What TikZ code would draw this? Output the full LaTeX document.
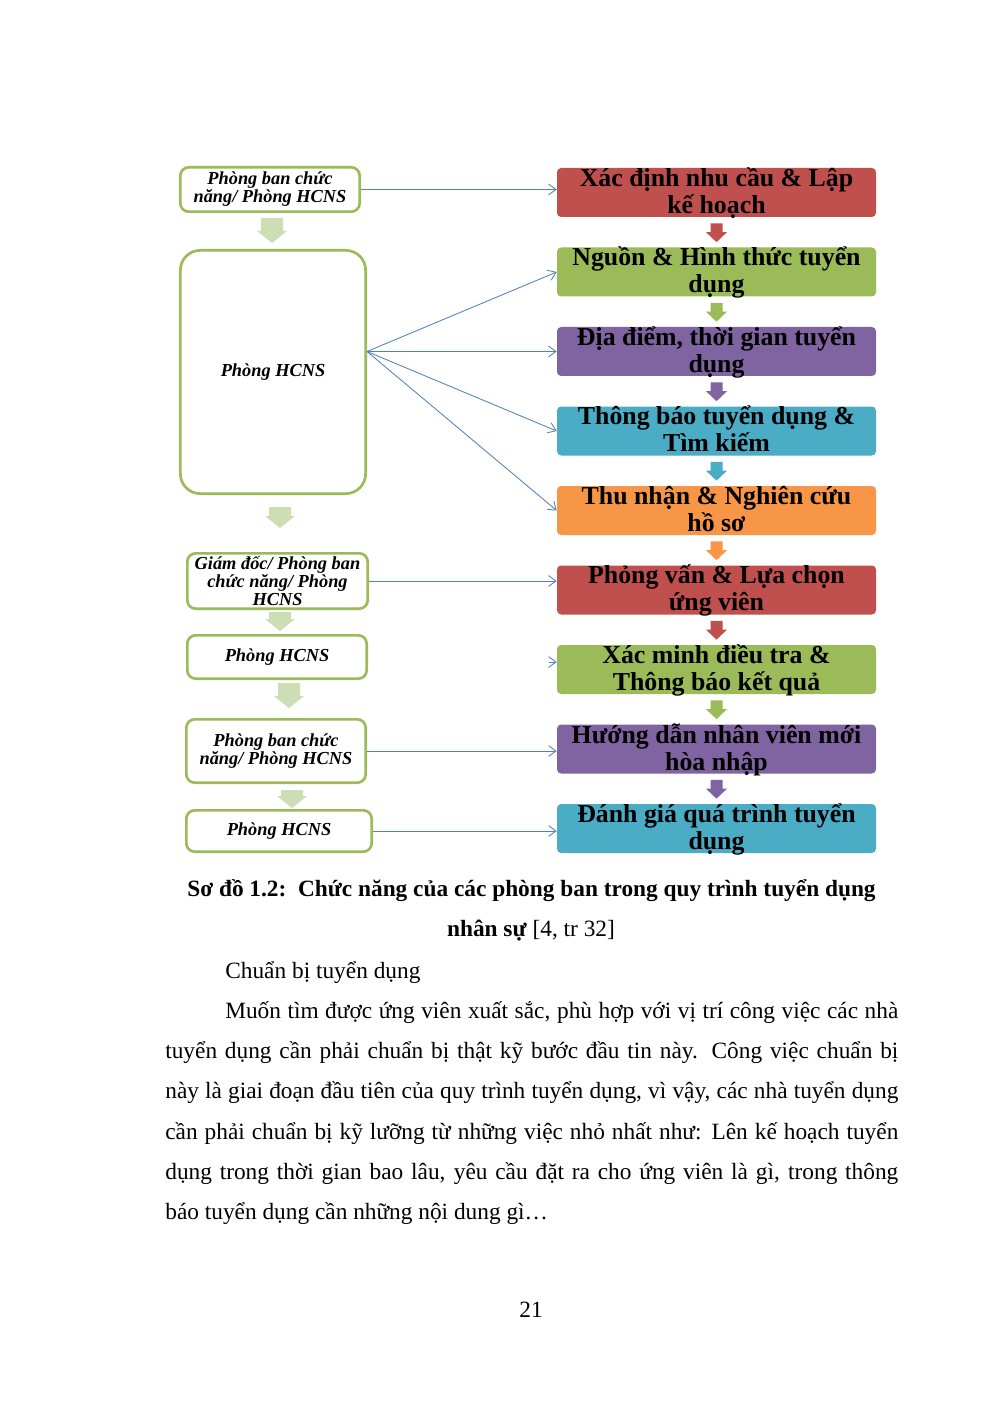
\documentclass[tikz,border=0pt]{standalone}
\usepackage{fontspec}
\setmainfont{Liberation Serif}
\usetikzlibrary{calc, arrows.meta}
\definecolor{myred}{HTML}{C0504D}
\definecolor{mygreen}{HTML}{9BBB59}
\definecolor{mypurple}{HTML}{8064A2}
\definecolor{myblue}{HTML}{4BACC6}
\definecolor{myorange}{HTML}{F79646}
\definecolor{mylink}{HTML}{4F81BD}
\definecolor{mypale}{HTML}{CDDDB4}
\newcommand{\stagetext}[1]{\smash{\raisebox{-4.8pt}{\begin{tabular}{@{}c@{}}#1\end{tabular}}}}
\tikzset{
	stagenode/.style={
			rectangle,
			rounded corners=2.5pt,
			minimum width=191.4pt,
			minimum height=29.4pt,
			inner sep=0pt,
			font=\fontsize{15.5}{16.2}\selectfont\bfseries
		},
	deptnode/.style={
			rectangle,
			rounded corners=5pt,
			draw=mygreen,
			line width=1.6pt,
			fill=white,
			inner sep=0pt,
			align=center,
			font=\fontsize{11}{10.8}\selectfont\bfseries\itshape
		},
	linkline/.style={
			draw=mylink,
			line width=0.5pt,
			-{Straight Barb[length=4.5pt,width=6.5pt]}
		},
	bodyline/.style={
			inner sep=0pt,
			anchor=base west,
			font=\fontsize{14}{16}\selectfont
		}
}

\begin{document}
\begin{tikzpicture}[x=0.6pt, y=-0.6pt]
\useasboundingbox[fill=white] (0,0) rectangle (992,1403);
    \node[stagenode, fill=myred] (r1) at (716.5,192.5) {\stagetext{Xác định nhu cầu \& Lập\\kế hoạch}};
    \node[stagenode, fill=mygreen] (r2) at (716.5,272) {\stagetext{Nguồn \& Hình thức tuyển\\dụng}};
    \node[stagenode, fill=mypurple] (r3) at (716.5,351.5) {\stagetext{Địa điểm, thời gian tuyển\\dụng}};
    \node[stagenode, fill=myblue] (r4) at (716.5,431) {\stagetext{Thông báo tuyển dụng \&\\Tìm kiếm}};
    \node[stagenode, fill=myorange] (r5) at (716.5,510.5) {\stagetext{Thu nhận \& Nghiên cứu\\hồ sơ}};
    \node[stagenode, fill=myred] (r6) at (716.5,590) {\stagetext{Phỏng vấn \& Lựa chọn\\ứng viên}};
    \node[stagenode, fill=mygreen] (r7) at (716.5,669.5) {\stagetext{Xác minh điều tra \&\\Thông báo kết quả}};
    \node[stagenode, fill=mypurple] (r8) at (716.5,749) {\stagetext{Hướng dẫn nhân viên mới\\hòa nhập}};
    \node[stagenode, fill=myblue] (r9) at (716.5,828.5) {\stagetext{Đánh giá quá trình tuyển\\dụng}};

    \foreach \a/\b/\c in {r1/r2/myred, r2/r3/mygreen, r3/r4/mypurple, r4/r5/myblue,
                          r5/r6/myorange, r6/r7/myred, r7/r8/mygreen, r8/r9/mypurple}
        \fill[\c] ($(\a.south)+(-6,6)$) -- ($(\a.south)+(6,6)$) -- ($(\b.north)+(6,-15)$)
            -- ($(\b.north)+(10.5,-15)$) -- ($(\b.north)+(0,-5)$) -- ($(\b.north)+(-10.5,-15)$)
            -- ($(\b.north)+(-6,-15)$) -- cycle;

    \node[deptnode, minimum width=107.6pt, minimum height=26.6pt] (d1) at (270,189.5) {Phòng ban chức\\năng/ Phòng HCNS};
    \node[deptnode, rounded corners=12pt, minimum width=111.2pt, minimum height=146pt] (d2) at (273,372) {Phòng HCNS};
    \node[deptnode, minimum width=108.2pt, minimum height=33.2pt] (d3) at (277.5,581) {Giám đốc/ Phòng ban\\chức năng/ Phòng\\HCNS};
    \node[deptnode, minimum width=107.6pt, minimum height=26pt] (d4) at (277,657) {Phòng HCNS};
    \node[deptnode, minimum width=107.6pt, minimum height=38pt] (d5) at (276,751) {Phòng ban chức\\năng/ Phòng HCNS};
    \node[deptnode, minimum width=111.2pt, minimum height=24.8pt] (d6) at (279,831) {Phòng HCNS};

    \foreach \x/\ya/\yb in {272/218/243, 280/507/528, 280/612/631, 289/683/708, 292/790/808}
        \fill[mypale] ({\x-11},\ya) -- ({\x+11},\ya) -- ({\x+11},\yb-12) -- ({\x+15},\yb-12)
            -- (\x,\yb) -- ({\x-15},\yb-12) -- ({\x-11},\yb-12) -- cycle;

    \coordinate (hub) at (d2.east |- r3.west);
    \coordinate (stub) at ($(r7.west)+(-8,-7.5)$);
    \draw[linkline] (d1.east) -- (d1.east -| r1.west);
    \foreach \t in {r2, r3, r4, r5}
        \draw[linkline] (hub) -- (\t.west);
    \draw[linkline] (d3.east) -- (d3.east -| r6.west);
    \draw[linkline] (stub) -- (stub -| r7.west);
    \draw[linkline] (d5.east) -- (d5.east -| r8.west);
    \draw[linkline] (d6.east) -- (d6.east -| r9.west);

    \node[anchor=base, font=\fontsize{14}{16}\selectfont\bfseries] (cap1) at (531.5,896) {Sơ đồ 1.2:\ \ Chức năng của các phòng ban trong quy trình tuyển dụng};
    \node[anchor=base, font=\fontsize{14}{16}\selectfont] (cap2) at (531,936) {\textbf{nhân sự} [4, tr 32]};

    \node[bodyline] (p0) at (225,978) {Chuẩn bị tuyển dụng};
    \node[bodyline] (p1) at (225,1018) {\makebox[403.8pt][s]{Muốn tìm được ứng viên xuất sắc, phù hợp với vị trí công việc các nhà}};
    \node[bodyline] (p2) at (165,1058) {\makebox[439.8pt][s]{tuyển dụng cần phải chuẩn bị thật kỹ bước đầu tin này. Công việc chuẩn bị}};
    \node[bodyline] (p3) at (165,1098) {\makebox[439.8pt][s]{này là giai đoạn đầu tiên của quy trình tuyển dụng, vì vậy, các nhà tuyển dụng}};
    \node[bodyline] (p4) at (165,1139) {\makebox[439.8pt][s]{cần phải chuẩn bị kỹ lưỡng từ những việc nhỏ nhất như: Lên kế hoạch tuyển}};
    \node[bodyline] (p5) at (165,1179) {\makebox[439.8pt][s]{dụng trong thời gian bao lâu, yêu cầu đặt ra cho ứng viên là gì, trong thông}};
    \node[bodyline] (p6) at (165,1219) {báo tuyển dụng cần những nội dung gì…};

    \node[anchor=base, font=\fontsize{14}{16}\selectfont] (pg) at (531,1317) {21};
\end{tikzpicture}
\end{document}
